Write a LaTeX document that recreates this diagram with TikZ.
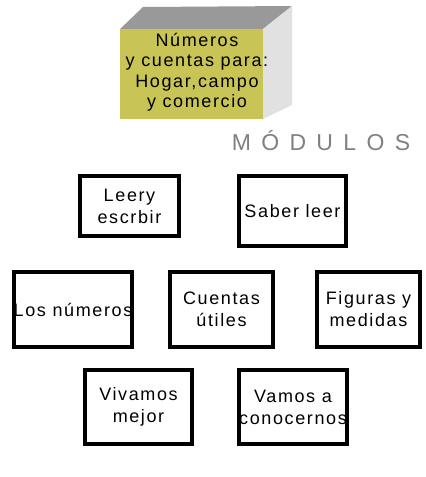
\documentclass[tikz,border=0pt]{standalone}
\usepackage{fontspec}
\setmainfont{Liberation Sans}
\newfontfamily\spacedfont[LetterSpace=9]{Liberation Sans}
\newfontfamily\widefont[LetterSpace=45]{Liberation Sans}
\definecolor{cajafrente}{RGB}{200,196,85}
\definecolor{cajatapa}{RGB}{153,153,153}
\definecolor{cajalado}{RGB}{225,225,225}
\definecolor{titulogris}{RGB}{128,128,128}

\begin{document}
\begin{tikzpicture}[
          x=1pt, y=-1pt,
          modulo/.style={draw, line width=4pt, inner sep=0pt, align=center,
            font=\spacedfont\fontsize{18}{22}\selectfont}
        ]
        \useasboundingbox (0,0) rectangle (426,477);
        \fill[cajatapa] (120,29) -- (143,7) -- (292,6) -- (263,29) -- cycle;
        \fill[cajalado] (263,29) -- (292,6) -- (292,105) -- (263,119) -- cycle;
        \node[fill=cajafrente, minimum width=143pt, minimum height=90pt, inner sep=0pt] (caja) at (191.5,74) {};
        \node[align=center, font=\spacedfont\fontsize{18}{20.5}\selectfont] (cajatexto) at (197,72) {Números\\y cuentas para:\\Hogar,campo\\y comercio};
        \node[text=titulogris, font=\widefont\fontsize{23}{23}\selectfont] (titulo) at (321,141) {MÓDULOS};

        \node[modulo, minimum width=99pt, minimum height=60pt] (leer) at (129.5,206) {Leery\\escrbir};
        \node[modulo, minimum width=107pt, minimum height=70pt] (saber) at (292.5,211) {Saber leer};
        \node[modulo, minimum width=116pt, minimum height=75pt] (numeros) at (73,309.5) {Los números};
        \node[modulo, minimum width=103pt, minimum height=75pt] (cuentas) at (221.5,309.5) {Cuentas\\útiles};
        \node[modulo, minimum width=103pt, minimum height=75pt] (figuras) at (368.5,309.5) {Figuras y\\medidas};
        \node[modulo, minimum width=107pt, minimum height=74pt] (vivamos) at (138.5,407) {Vivamos\\mejor};
        \node[modulo, minimum width=108pt, minimum height=74pt] (vamos) at (293,407) {Vamos a\\conocernos};
        \end{tikzpicture}
\end{document}
